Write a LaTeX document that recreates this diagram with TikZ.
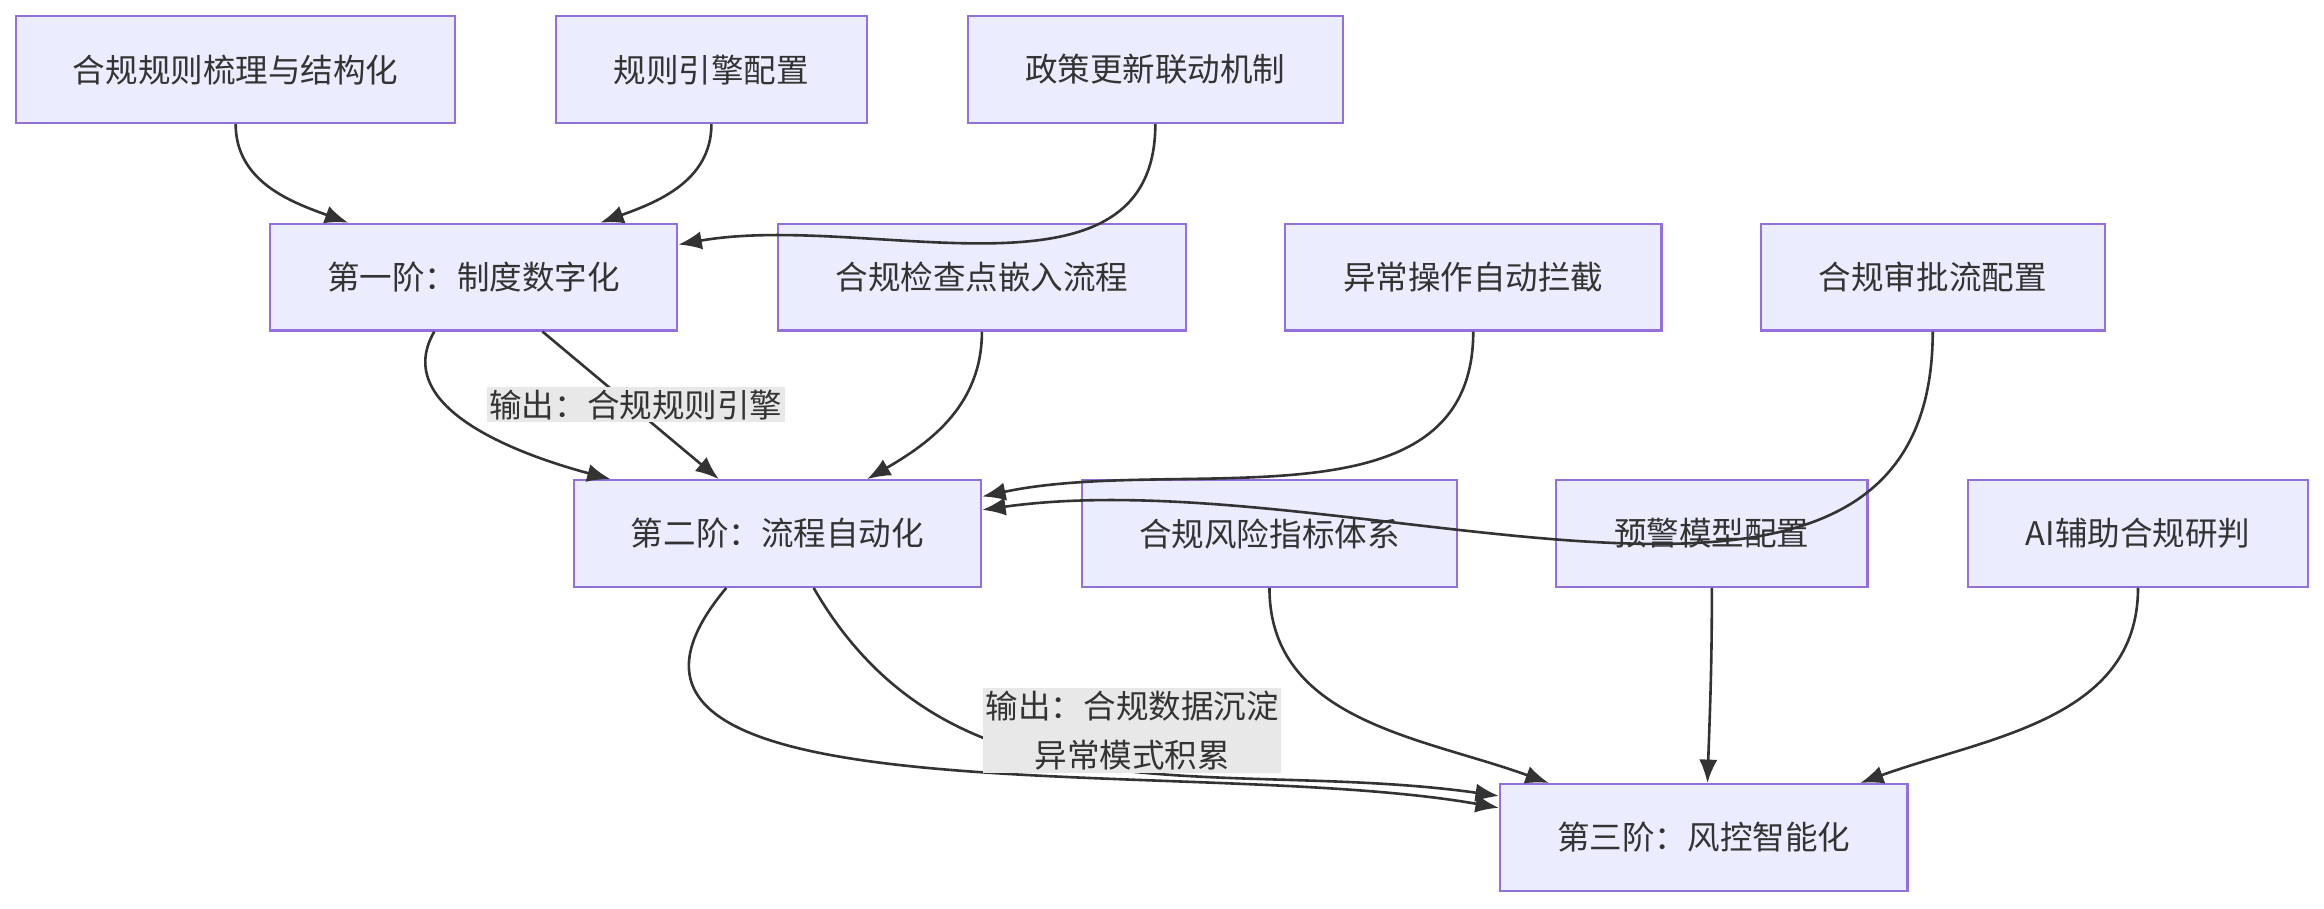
\documentclass[tikz,border=0pt]{standalone}
\usepackage{fontspec}
\setmainfont{Noto Sans CJK SC}
\usetikzlibrary{arrows.meta}
\definecolor{boxfill}{HTML}{ECECFF}
\definecolor{boxline}{HTML}{9370DB}
\definecolor{edgecol}{HTML}{333333}
\definecolor{lblfill}{HTML}{E8E8E8}
\begin{document}
\begin{tikzpicture}[x=0.02cm,y=-0.02cm]
\tikzset{
  box/.style={draw=boxline,fill=boxfill,line width=0.8pt,minimum height=1.44cm,
    inner sep=0pt,font=\fontsize{12.5}{15}\selectfont,text=edgecol},
  link/.style={draw=edgecol,line width=1pt,-{Latex[length=9pt,width=7pt]}},
  lbl/.style={fill=lblfill,inner sep=1pt,align=center,font=\fontsize{12.5}{19}\selectfont,text=edgecol}
}
\useasboundingbox (0,0) rectangle (1568,613);

% top row
\node[box,minimum width=5.92cm] (rules) at (159,47) {合规规则梳理与结构化};
\node[box,minimum width=4.2cm] (engine) at (480,47) {规则引擎配置};
\node[box,minimum width=5.06cm] (policy) at (779.5,47) {政策更新联动机制};

% stage one row
\node[box,minimum width=5.5cm] (stageA) at (319.5,187) {第一阶：制度数字化};
\node[box,minimum width=5.5cm] (check) at (662.5,187) {合规检查点嵌入流程};
\node[box,minimum width=5.08cm] (block) at (994,187) {异常操作自动拦截};
\node[box,minimum width=4.64cm] (approve) at (1304,187) {合规审批流配置};

% stage two row
\node[box,minimum width=5.5cm] (stageB) at (524.5,360) {第二阶：流程自动化};
\node[box,minimum width=5.06cm] (index) at (856.5,360) {合规风险指标体系};
\node[box,minimum width=4.2cm] (warn) at (1155,360) {预警模型配置};
\node[box,minimum width=4.58cm] (ai) at (1442.5,360) {AI辅助合规研判};

% stage three
\node[box,minimum width=5.5cm] (stageC) at (1149.5,565) {第三阶：风控智能化};

% edges into stage one
\draw[link] (rules.south) to[out=-90,in=160] (stageA.north -| 235,0);
\draw[link] (engine.south) to[out=-90,in=20] (stageA.north -| 405,0);
\draw[link] (policy.south) to[out=-90,in=10] (stageA.east |- 0,165);

% edges into stage two
\draw[link] (stageA.south -| 293,0) to[out=-120,in=165] (stageB.north -| 412,0);
\draw[link] (stageA.south -| 366,0) -- (stageB.north -| 485,0);
\node[lbl] (outA) at (429,273) {输出：合规规则引擎};
\draw[link] (check.south) to[out=-90,in=30] (stageB.north -| 585,0);
\draw[link] (block.south) to[out=-90,in=12] (stageB.east |- 0,335);
\draw[link] (approve.south) to[out=-90,in=8] (stageB.east |- 0,344);

% edges into stage three
\draw[link] (stageB.south -| 490,0) to[out=-130,in=170] (stageC.west |- 0,545);
\draw[link] (stageB.south -| 549,0) to[out=-60,in=172] (stageC.west |- 0,537);
\node[lbl] (outB) at (764,493) {输出：合规数据沉淀\\异常模式积累};
\draw[link] (index.south) to[out=-90,in=160] (stageC.north -| 1045,0);
\draw[link] (warn.south) to[out=-90,in=88] (stageC.north -| 1152,0);
\draw[link] (ai.south) to[out=-90,in=20] (stageC.north -| 1255,0);
\end{tikzpicture}
\end{document}
